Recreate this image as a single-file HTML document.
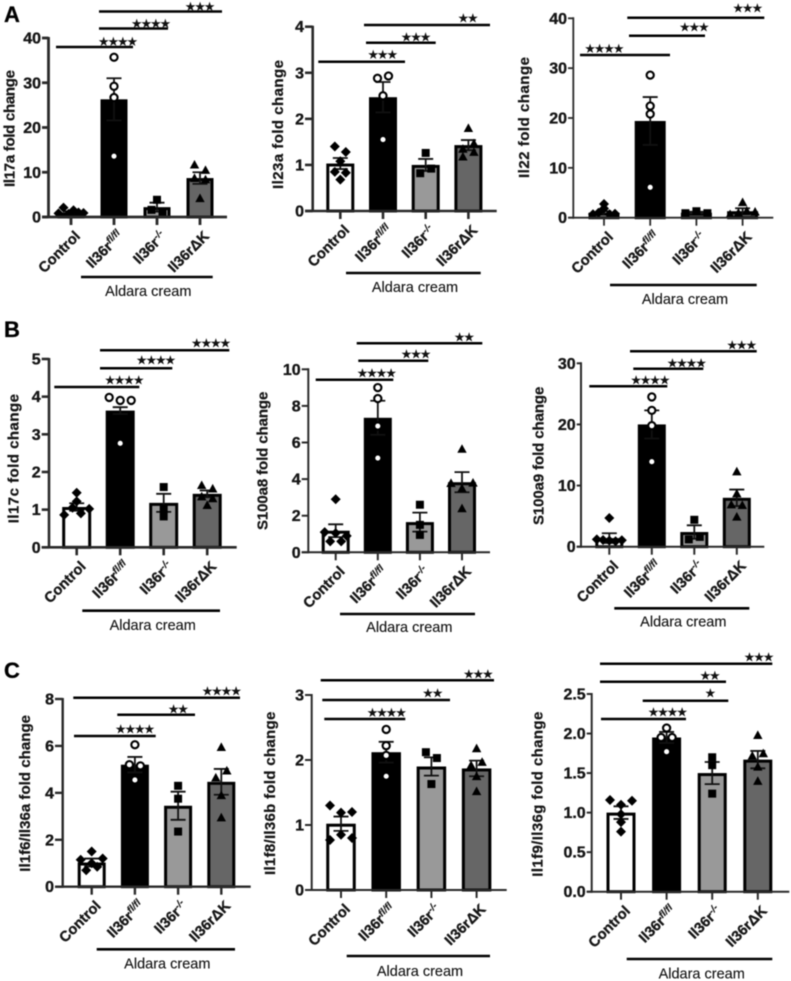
<!DOCTYPE html>
<html lang="en">
<head>
<meta charset="utf-8">
<title>Fold change bar charts</title>
<style>
html,body{margin:0;padding:0;background:#fff;width:791px;height:981px;overflow:hidden}
#chart{display:block;filter:blur(.5px)}
text{font-family:"Liberation Sans",sans-serif;fill:#161616}
.letter{font-size:22px;font-weight:700;fill:#000;stroke:#000;stroke-width:.3px}
.tick{font-size:16px;font-weight:700;text-anchor:end;stroke:#161616;stroke-width:.35px}
.ytitle{font-size:15px;font-weight:700;text-anchor:middle;stroke:#161616;stroke-width:.25px}
.cat{font-size:14.6px;font-weight:700;text-anchor:end;stroke:#161616;stroke-width:.35px}
.cat-sup{font-size:10px;font-style:italic;stroke-width:.15px}
.stars{font-family:"DejaVu Sans",sans-serif;font-size:13px;font-weight:700;letter-spacing:-2.1px;text-anchor:middle;fill:#111}
.aldara{font-size:14.5px;text-anchor:middle;fill:#111;stroke:#111;stroke-width:.12px}
</style>
</head>
<body>
<svg id="chart" xmlns="http://www.w3.org/2000/svg" width="791" height="981" viewBox="0 0 791 981">
  <text class="letter" x="4" y="22">A</text>
  <text class="letter" x="4" y="337">B</text>
  <text class="letter" x="4" y="678">C</text>
</svg>
<script>
// Shared categories
const categories = ['Control', 'Il36r', 'Il36r', 'Il36r\u0394K'];
const categorySups = ['', 'fl/fl', '-/-', ''];
const groupLabel = 'Aldara cream';

// Il17a
const il17aTicks = ['0', '10', '20', '30', '40'];
const il17aMeans = [1.0, 26.3, 2.2, 8.7];
const il17aErrors = [0.25, 4.7, 1.0, 1.3];
const il17aPoints = [[0.8, 2.1, 0.7, 1.5, 1.0, 0.9], [35.7, 29.2, 26.7, 13.6], [3.85, 1.6, 1.2], [11.7, 10.5, 8.7, 8.4, 4.2]];

// Il23a
const il23aTicks = ['0', '1', '2', '3', '4'];
const il23aMeans = [1.03, 2.47, 1.0, 1.43];
const il23aErrors = [0.12, 0.33, 0.13, 0.11];
const il23aPoints = [[1.4, 1.28, 1.08, 0.68, 0.85, 0.83], [2.88, 2.93, 2.5, 1.55], [1.26, 0.82, 0.92], [1.8, 1.35, 1.47, 1.18, 1.28]];

// Il22
const il22Ticks = ['0', '10', '20', '30', '40'];
const il22Means = [1.0, 19.4, 1.0, 1.3];
const il22Errors = [0.3, 4.8, 0.2, 0.6];
const il22Points = [[0.7, 1.85, 0.8, 2.75, 1.0, 0.7], [28.6, 22.4, 20.8, 6.1], [0.9, 1.3, 0.9], [3.1, 0.7, 1.0, 1.4, 1.2]];

// Il17c
const il17cTicks = ['0', '1', '2', '3', '4', '5'];
const il17cMeans = [1.07, 3.63, 1.18, 1.42];
const il17cErrors = [0.1, 0.09, 0.24, 0.09];
const il17cPoints = [[1.45, 1.22, 0.86, 1.05, 0.9, 1.02], [3.98, 3.9, 3.9, 2.76], [1.6, 1.03, 0.82], [1.65, 1.56, 1.35, 1.3, 1.12]];

// S100a8
const s100a8Ticks = ['0', '2', '4', '6', '8', '10'];
const s100a8Means = [1.18, 7.35, 1.65, 3.83];
const s100a8Errors = [0.35, 0.93, 0.52, 0.55];
const s100a8Points = [[2.9, 1.1, 1.05, 0.9, 0.6, 0.6], [9.0, 8.4, 6.9, 5.15], [2.6, 1.5, 0.95], [5.65, 3.78, 3.5, 3.8, 2.4]];

// S100a9
const s100a9Ticks = ['0', '10', '20', '30'];
const s100a9Means = [1.4, 20.0, 2.4, 8.0];
const s100a9Errors = [0.8, 2.3, 1.1, 1.35];
const s100a9Points = [[4.7, 1.2, 1.1, 1.0, 0.9, 1.05], [24.5, 22.3, 19.8, 13.9], [4.4, 1.2, 1.6], [12.3, 8.7, 6.9, 6.8, 4.9]];

// Il1f6/Il36a
const il1f6Ticks = ['0', '2', '4', '6', '8'];
const il1f6Means = [1.03, 5.2, 3.45, 4.47];
const il1f6Errors = [0.17, 0.33, 0.6, 0.55];
const il1f6Points = [[1.5, 1.15, 1.0, 1.2, 0.7, 0.85], [6.05, 5.2, 5.15, 4.55], [4.3, 3.75, 2.35], [5.95, 4.65, 4.95, 3.9, 2.95]];

// Il1f8/Il36b
const il1f8Ticks = ['0', '1', '2', '3'];
const il1f8Means = [1.02, 2.12, 1.9, 1.87];
const il1f8Errors = [0.11, 0.16, 0.14, 0.12];
const il1f8Points = [[1.3, 1.19, 1.2, 0.77, 0.85, 0.8], [2.47, 2.22, 2.07, 1.75], [2.12, 2.03, 1.63], [2.18, 1.92, 1.97, 1.75, 1.52]];

// Il1f9/Il36g
const il1f9Ticks = ['0.0', '0.5', '1.0', '1.5', '2.0', '2.5'];
const il1f9Means = [1.0, 1.95, 1.5, 1.67];
const il1f9Errors = [0.08, 0.07, 0.14, 0.11];
const il1f9Points = [[1.16, 1.1, 1.15, 0.98, 0.88, 0.76], [2.07, 1.95, 1.95, 1.77], [1.7, 1.6, 1.24], [1.98, 1.72, 1.75, 1.58, 1.4]];

// Panel layout (pixel geometry is kept here, apart from the data arrays)
const panels = [
  {id:'il17a', title:'Il17a fold change', ticks:il17aTicks, means:il17aMeans, errors:il17aErrors, points:il17aPoints,
   axisX:48.5, tickL:42, xEnd:227, y0:217, yTop:38, first:71, step:43, barW:24, axisW:2.8,
   titleX:9.5, titleA:70, titleB:187,
   aldara:[81,212.7,277,148.3,296],
   brackets:[[56,133,47,117,41,4],[99,168,28.5,150,23,4],[99,222,11.5,199,6,3]]},
  {id:'il23a', title:'Il23a fold change', ticks:il23aTicks, means:il23aMeans, errors:il23aErrors, points:il23aPoints,
   axisX:312.7, tickL:305, xEnd:496.7, y0:211, yTop:26.7, first:340.3, step:42.7, barW:25, axisW:2.6,
   titleX:278, titleA:60, titleB:189,
   aldara:[346,480.7,273,415,292],
   brackets:[[318.3,405,61.7,381.7,54,3],[366,435.7,42.7,415,36.7,3],[364,490,25,467,17.5,2]]},
  {id:'il22', title:'Il22 fold change', ticks:il22Ticks, means:il22Means, errors:il22Errors, points:il22Points,
   axisX:573.3, tickL:568, xEnd:773.3, y0:217.7, yTop:18.3, first:604, step:46.2, barW:28, axisW:1.8,
   titleX:524, titleA:57, titleB:178,
   aldara:[610,756.7,285,685,304],
   brackets:[[580,670,55,603.3,48,4],[629,705,35.7,693.3,26.7,3],[627.3,764.3,17.7,746.7,7.3,3]]},
  {id:'il17c', title:'Il17c fold change', ticks:il17cTicks, means:il17cMeans, errors:il17cErrors, points:il17cPoints,
   axisX:49, tickL:41.7, xEnd:236.7, y0:547.3, yTop:359, first:76.7, step:43.5, barW:26, axisW:2.6,
   titleX:13.5, titleA:394, titleB:523.3,
   aldara:[82.3,220,610.7,152.7,630],
   brackets:[[54.3,139.3,387,123.3,379.3,4],[100,172.3,368.3,155,359.3,4],[100,229.3,350.3,210,342.7,4]]},
  {id:'s100a8', title:'S100a8 fold change', ticks:s100a8Ticks, means:s100a8Means, errors:s100a8Errors, points:s100a8Points,
   axisX:308.3, tickL:301.7, xEnd:490, y0:552.3, yTop:369.3, first:335.7, step:42.1, barW:25, axisW:2,
   titleX:262.7, titleA:391.7, titleB:530,
   aldara:[340,475,614,409.3,632],
   brackets:[[315.7,393.3,379.7,375.7,372.7,4],[358.3,428.3,360.7,415,353.3,3],[356.7,482.3,343.3,463.3,336.7,2]]},
  {id:'s100a9', title:'S100a9 fold change', ticks:s100a9Ticks, means:s100a9Means, errors:s100a9Errors, points:s100a9Points,
   axisX:581, tickL:576.7, xEnd:764.3, y0:546.7, yTop:363.3, first:609.3, step:42.5, barW:25, axisW:2,
   titleX:538.3, titleA:386.7, titleB:525,
   aldara:[614.3,749.3,608.3,683.3,626.7],
   brackets:[[589.3,667.3,386.3,649.3,379.3,4],[633.3,703.3,368.7,685.7,362.3,4],[630,756.7,351.3,740.7,344.3,3]]},
  {id:'il1f6', title:'Il1f6/Il36a fold change', ticks:il1f6Ticks, means:il1f6Means, errors:il1f6Errors, points:il1f6Points,
   axisX:62.7, tickL:55, xEnd:250.7, y0:886.7, yTop:699, first:91.7, step:43.2, barW:25, axisW:2.4,
   titleX:25, titleA:715, titleB:871.7,
   aldara:[96.7,235,949.3,167.3,968.3],
   brackets:[[74,155.7,736,134,728.3,4],[117.3,195,714.7,177.3,708.7,2],[73.3,240,697.7,220.7,690.7,4]]},
  {id:'il1f8', title:'Il1f8/Il36b fold change', ticks:il1f8Ticks, means:il1f8Means, errors:il1f8Errors, points:il1f8Points,
   axisX:311.7, tickL:305, xEnd:506.7, y0:890, yTop:695, first:341, step:45.2, barW:26.5, axisW:2,
   titleX:270, titleA:711.7, titleB:875,
   aldara:[346.7,490,956,420,976],
   brackets:[[324.3,405.3,719,385.7,712,4],[322.3,450,700,431.7,692.7,2],[320.7,494,680.3,477.3,673.3,3]]},
  {id:'il1f9', title:'Il1f9/Il36g fold change', ticks:il1f9Ticks, means:il1f9Means, errors:il1f9Errors, points:il1f9Points,
   axisX:591.7, tickL:586.7, xEnd:789.3, y0:891.7, yTop:694, first:621, step:45.6, barW:26, axisW:2,
   titleX:537.7, titleA:711.7, titleB:876.7,
   aldara:[626.7,772.3,959,701.7,978.3],
   brackets:[[601,686,719,666.7,711.7,4],[642.7,728.3,700.7,709.3,692.7,1],[600,726,681.7,709,675,2],[600,772.3,663.7,758,656.7,3]]}
];

const barFills = ['#ffffff', '#000000', '#999999', '#666666'];
const SVGNS = 'http://www.w3.org/2000/svg';
const root = document.getElementById('chart');

function mk(parent, tag, attrs) {
  const el = document.createElementNS(SVGNS, tag);
  for (const k in attrs) el.setAttribute(k, attrs[k]);
  parent.appendChild(el);
  return el;
}

// Values close together are spread sideways, left to right in array order
function swarm(values, yScale) {
  const bins = [];
  values.forEach(function (v) {
    const last = bins[bins.length - 1];
    if (last && Math.abs(yScale(last[0]) - yScale(v)) <= 7.5) last.push(v);
    else bins.push([v]);
  });
  const out = [];
  bins.forEach(function (bin) {
    const n = bin.length;
    const gap = n > 1 ? Math.min(11, 25 / (n - 1)) : 0;
    bin.forEach(function (v, i) {
      out.push({ value: v, offset: (i - (n - 1) / 2) * gap });
    });
  });
  return out;
}

function drawMarker(parent, kind, x, y) {
  let el;
  if (kind === 0) {
    el = mk(parent, 'polygon', { points: [x, y - 5, x + 5, y, x, y + 5, x - 5, y].join(','), fill: '#000' });
  } else if (kind === 1) {
    el = mk(parent, 'circle', { cx: x, cy: y, r: 3.6, fill: '#fff', stroke: '#000', 'stroke-width': 2.1 });
  } else if (kind === 2) {
    el = mk(parent, 'rect', { x: x - 4, y: y - 4, width: 8, height: 8, fill: '#000' });
  } else {
    el = mk(parent, 'polygon', { points: [x, y - 4.7, x + 4.7, y + 3.9, x - 4.7, y + 3.9].join(','), fill: '#000' });
  }
  
  
}

panels.forEach(function (p) {
  const maxV = parseFloat(p.ticks[p.ticks.length - 1]);
  const yScale = function (v) { return p.y0 - (v / maxV) * (p.y0 - p.yTop); };
  const xScale = function (i) { return p.first + i * p.step; };

  const g = mk(root, 'g', {});
  
  

  // bars: the outer edge of the border sits at the mean
  p.means.forEach(function (m, i) {
    const top = yScale(m) + 1.5;
    const bar = mk(g, 'rect', { x: xScale(i) - p.barW / 2, y: top, width: p.barW, height: Math.max(0.5, p.y0 - top), fill: barFills[i], stroke: '#000', 'stroke-width': 3 });
    
    
  });

  // error bars
  p.means.forEach(function (m, i) {
    const cx = xScale(i), hi = yScale(m + p.errors[i]), lo = yScale(m - p.errors[i]);
    const d = 'M' + cx + ' ' + hi + 'V' + lo + 'M' + (cx - 7.5) + ' ' + hi + 'H' + (cx + 7.5) + 'M' + (cx - 7.5) + ' ' + lo + 'H' + (cx + 7.5);
    const err = mk(g, 'path', { d: d, fill: 'none', stroke: '#111', 'stroke-width': 1.8 });
    
    
  });

  // points
  p.points.forEach(function (vals, i) {
    swarm(vals, yScale).forEach(function (pt) {
      drawMarker(g, i, xScale(i) + pt.offset, yScale(pt.value));
    });
  });

  // axes
  const yAxis = mk(g, 'line', { x1: p.axisX, x2: p.axisX, y1: p.yTop - 1, y2: p.y0 + 1, stroke: '#2a2a2a', 'stroke-width': p.axisW });
  
  
  const xAxis = mk(g, 'line', { x1: p.tickL, x2: p.xEnd, y1: p.y0, y2: p.y0, stroke: '#2a2a2a', 'stroke-width': p.axisW });
  
  

  p.ticks.forEach(function (label) {
    const y = yScale(parseFloat(label));
    const tick = mk(g, 'line', { x1: p.tickL, x2: p.axisX, y1: y, y2: y, stroke: '#2a2a2a', 'stroke-width': p.axisW });
    
    
    const txt = mk(g, 'text', { class: 'tick', x: p.tickL - 1, y: y + 5.5 });
    
    
    txt.textContent = label;
  });

  categories.forEach(function (name, i) {
    const cx = xScale(i);
    const tick = mk(g, 'line', { x1: cx, x2: cx, y1: p.y0, y2: p.y0 + 8, stroke: '#2a2a2a', 'stroke-width': p.axisW });
    
    
    const ax = cx + 10, ay = p.y0 + 20;
    const txt = mk(g, 'text', { class: 'cat', x: ax, y: ay, transform: 'rotate(-45 ' + ax + ' ' + ay + ')' });
    
    
    txt.appendChild(document.createTextNode(name));
    if (categorySups[i]) {
      const sup = mk(txt, 'tspan', { class: 'cat-sup', dy: -5 });
      
      
      sup.textContent = categorySups[i];
    }
  });

  // y title
  const tx = p.titleX + 5, ty = (p.titleA + p.titleB) / 2;
  const title = mk(g, 'text', { class: 'ytitle', x: tx, y: ty, transform: 'rotate(-90 ' + tx + ' ' + ty + ')', textLength: p.titleB - p.titleA });
  
  
  title.textContent = p.title;

  // significance brackets
  p.brackets.forEach(function (b) {
    const line = mk(g, 'line', { x1: b[0], x2: b[1], y1: b[2], y2: b[2], stroke: '#000', 'stroke-width': 2.5 });
    
    
    const stars = mk(g, 'text', { class: 'stars', x: b[3], y: b[4] + 5 });
    
    
    stars.textContent = '\u2605'.repeat(b[5]);
  });

  // group bar and label
  const a = p.aldara;
  const gl = mk(g, 'line', { x1: a[0], x2: a[1], y1: a[2], y2: a[2], stroke: '#000', 'stroke-width': 2.6 });
  
  
  const gt = mk(g, 'text', { class: 'aldara', x: a[3], y: a[4] });
  
  
  gt.textContent = groupLabel;
});
</script>
</body>
</html>
